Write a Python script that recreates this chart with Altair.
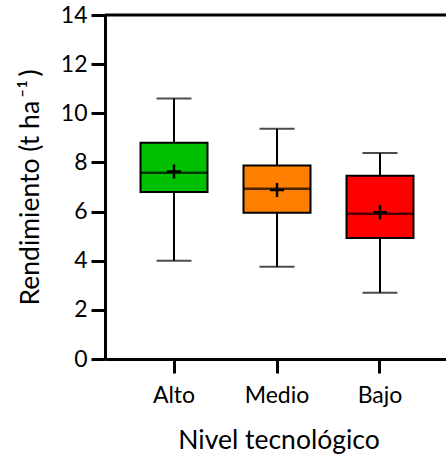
import altair as alt
import pandas as pd

categories = ["Alto", "Medio", "Bajo"]
whisker_low = [4.0, 3.75, 2.7]
q1 = [6.8, 5.95, 4.92]
median = [7.58, 6.93, 5.91]
q3 = [8.8, 7.87, 7.46]
whisker_high = [10.6, 9.37, 8.38]
means = [7.63, 6.88, 5.97]
colors = ["#00BF00", "#FF8000", "#FF0000"]

df = pd.DataFrame({
    "cat": categories, "low": whisker_low, "q1": q1, "med": median,
    "q3": q3, "high": whisker_high, "mean": means,
})

FONT = "Lato"
FS = 23
TFS = 26.5

x = alt.X("cat:N", sort=categories,
          scale=alt.Scale(domain=categories, range=[0, 344], paddingInner=0, paddingOuter=0.17),
          axis=alt.Axis(title="Nivel tecnológico", labelAngle=0, domainWidth=3, domainColor="black",
                        tickWidth=3, tickSize=14, tickColor="black", labelPadding=11,
                        labelFont=FONT, labelFontSize=FS, labelColor="black",
                        titleFont=FONT, titleFontSize=TFS, titleFontWeight="normal", titleColor="black",
                        titleX=173.5, titleY=89, titleBaseline="alphabetic", titleAlign="center"))
yscale = alt.Scale(domain=[0, 14], nice=False, zero=True)
yaxis = alt.Axis(title="Rendimiento (t ha\u2009⁻¹\u2009)", values=[0, 2, 4, 6, 8, 10, 12, 14], grid=False,
                 domainWidth=3, domainColor="black", tickWidth=3, tickSize=14, tickColor="black",
                 labelPadding=4, labelFont=FONT, labelFontSize=FS, labelColor="black",
                 titleFont=FONT, titleFontSize=TFS, titleFontWeight="normal", titleColor="black",
                 titleAngle=-90, titleX=-67, titleY=172, titleAlign="center", titleBaseline="alphabetic")

base = alt.Chart(df)

whisker = base.mark_rule(color="black", strokeWidth=2).encode(
    x=x, y=alt.Y("low:Q", scale=yscale, axis=yaxis), y2="high:Q")
cap_low = base.mark_tick(color="black", size=35, thickness=2).encode(x=x, y="low:Q")
cap_high = base.mark_tick(color="black", size=35, thickness=2).encode(x=x, y="high:Q")
box = base.mark_bar(size=67, stroke="black", strokeWidth=2).encode(
    x=x, y="q1:Q", y2="q3:Q",
    color=alt.Color("cat:N", scale=alt.Scale(domain=categories, range=colors), legend=None))
med = base.mark_tick(color="black", size=67, thickness=2.5).encode(x=x, y="med:Q")
mean_pt = base.mark_point(shape="M-1,0H1M0,-1V1", size=196, filled=False, color="black",
                          strokeWidth=2.5, opacity=1).encode(x=x, y="mean:Q")
top_line = alt.Chart(pd.DataFrame({"v": [14]})).mark_rule(color="black", strokeWidth=3).encode(
    y=alt.Y("v:Q", scale=yscale), x=alt.value(0), x2=alt.value(341))

chart = alt.layer(top_line, whisker, cap_low, cap_high, box, med, mean_pt).properties(
    width=341, height=344,
    autosize=alt.AutoSizeParams(type="none"),
    padding={"left": 105, "top": 15, "right": 0, "bottom": 95},
).configure_view(stroke=None).configure(background="white")

chart.save("out.html", embed_options={"renderer": "svg", "actions": False})
